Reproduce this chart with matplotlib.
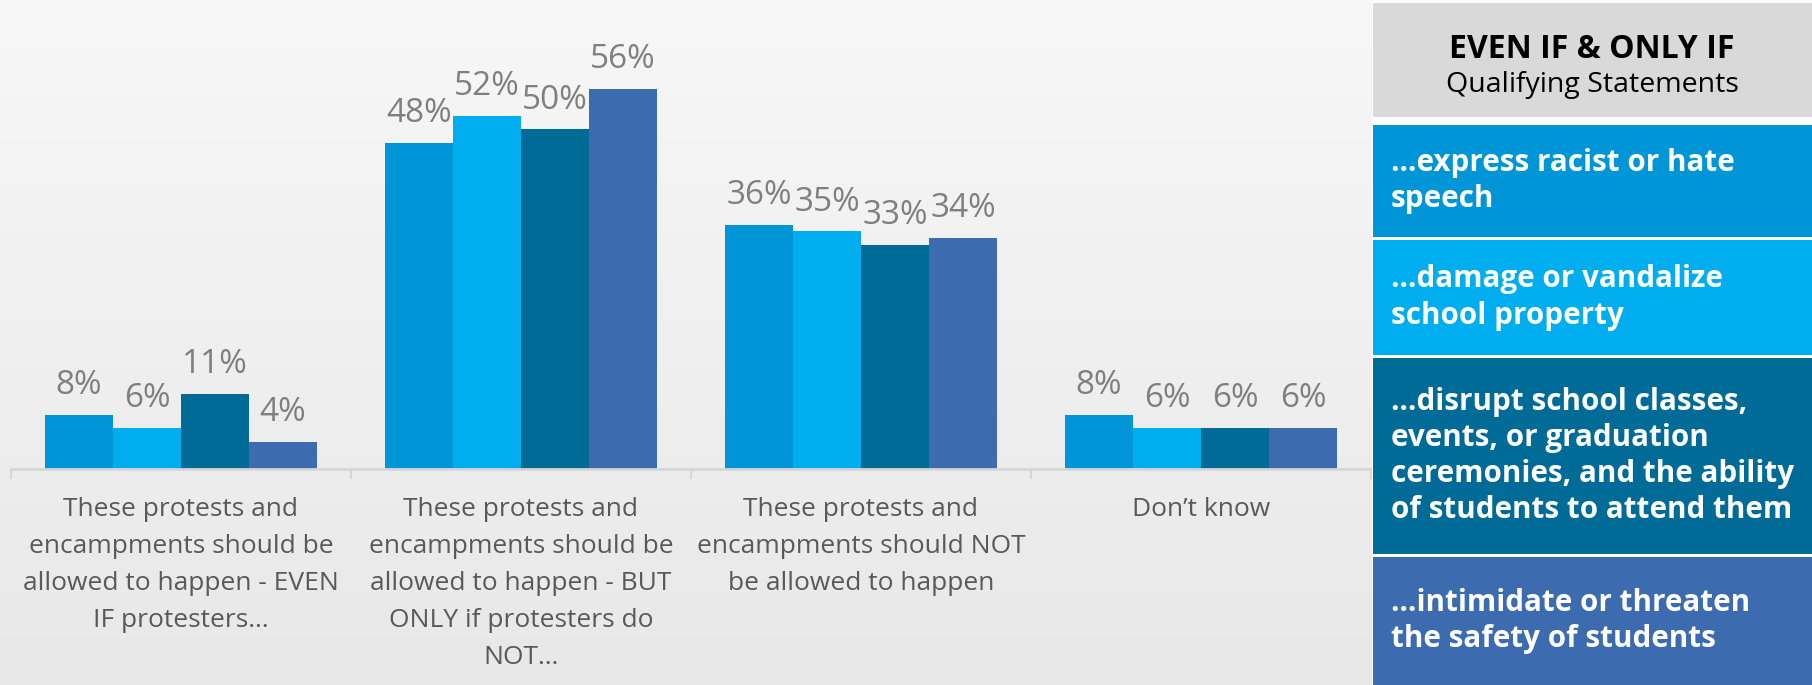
import matplotlib.pyplot as plt
import numpy as np
from matplotlib.colors import LinearSegmentedColormap
from matplotlib.patches import Rectangle

categories = [
    "These protests and\nencampments should be\nallowed to happen - EVEN\nIF protesters…",
    "These protests and\nencampments should be\nallowed to happen - BUT\nONLY if protesters do\nNOT…",
    "These protests and\nencampments should NOT\nbe allowed to happen",
    "Don’t know",
]
series_names = [
    "…express racist or hate\nspeech",
    "…damage or vandalize\nschool property",
    "…disrupt school classes,\nevents, or graduation\nceremonies, and the ability\nof students to attend them",
    "…intimidate or threaten\nthe safety of students",
]
express = [8, 48, 36, 8]
damage = [6, 52, 35, 6]
disrupt = [11, 50, 33, 6]
intimidate = [4, 56, 34, 6]
colors = ['#0095D6', '#00AEEF', '#006B96', '#3C6BB0']

plt.rcParams['font.family'] = ['Open Sans', 'DejaVu Sans']

W, H = 1812, 685
fig = plt.figure(figsize=(W / 100, H / 100), dpi=100)

# soft grey gradient behind everything
bg = fig.add_axes([0, 0, 1, 1], zorder=0)
grad = np.linspace(0, 1, 256)[:, None]
bg.imshow(grad, cmap=LinearSegmentedColormap.from_list('bg', ['#F7F7F7', '#E8E8E8']),
          aspect='auto', extent=[0, 1, 0, 1])
bg.axis('off')

base_px = 469
px_per_pct = 6.79
ax = fig.add_axes([11 / W, (H - base_px) / H, 1360 / W, base_px / H], zorder=1)
ax.patch.set_alpha(0)

x = np.arange(len(categories))
bw = 0.2
for i, (vals, c) in enumerate(zip([express, damage, disrupt, intimidate], colors)):
    xs = x + (i - 1.5) * bw
    ax.bar(xs, vals, width=bw, color=c, edgecolor='none')
    for xi, v in zip(xs, vals):
        ax.annotate(f"{v}%", (xi, v), xytext=(0, 15), textcoords='offset points',
                    ha='center', va='baseline', fontsize=24, color='#7F7F7F')

ax.set_xlim(-0.5, len(categories) - 0.5)
ax.set_ylim(0, base_px / px_per_pct)
for s in ['top', 'left', 'right']:
    ax.spines[s].set_visible(False)
ax.spines['bottom'].set_color('#D6D6D6')
ax.spines['bottom'].set_linewidth(2)
ax.set_yticks([])
ax.set_xticks(x)
ax.set_xticklabels(categories, fontsize=19, color='#595959', linespacing=1.63)
ax.tick_params(axis='x', which='major', length=0, pad=20)
ax.set_xticks(np.arange(-0.5, len(categories)), minor=True)
ax.tick_params(axis='x', which='minor', length=7, width=1.5, color='#D6D6D6')

# legend column on the right
lx0 = 1372
fig.patches.append(Rectangle((lx0 / W, 0), (W - lx0) / W, 1, transform=fig.transFigure,
                             facecolor='white', edgecolor='none', zorder=2))
boxes = [(3, 117, '#D9D9D9'), (125, 237, colors[0]), (240, 355, colors[1]),
         (358, 554, colors[2]), (557, 685, colors[3])]
for top, bot, c in boxes:
    fig.patches.append(Rectangle(((lx0 + 1) / W, 1 - bot / H), (W - lx0 - 1) / W, (bot - top) / H,
                                 transform=fig.transFigure, facecolor=c, edgecolor='none', zorder=3))

cx = (lx0 + W) / 2 / W
fig.text(cx, 1 - 58 / H, "EVEN IF & ONLY IF", ha='center', va='baseline',
         fontsize=23, fontweight='bold', color='black', zorder=4)
fig.text(cx, 1 - 92 / H, "Qualifying Statements", ha='center', va='baseline',
         fontsize=20.5, color='black', zorder=4)
for (top, bot, c), name in zip(boxes[1:], series_names):
    fig.text(1391 / W, 1 - (top + bot) / 2 / H, name, ha='left', va='center',
             fontsize=21.3, fontweight='bold', color='white', linespacing=1.27, zorder=4)

fig.savefig('out.png', dpi=100)
